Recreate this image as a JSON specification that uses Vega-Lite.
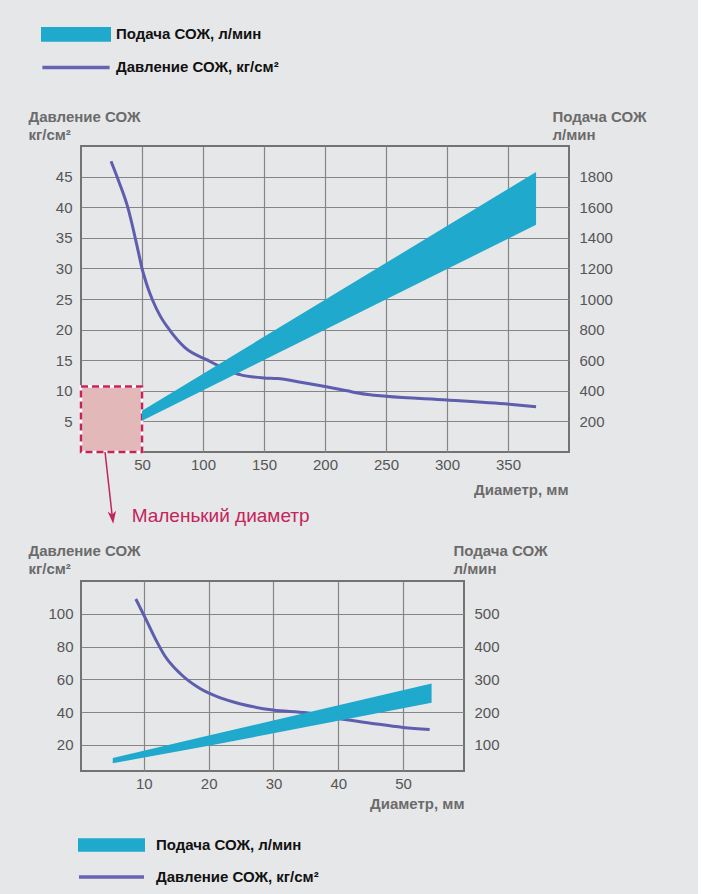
{
  "$schema": "https://vega.github.io/schema/vega-lite/v6.json",
  "background": "#e6e7e9",
  "padding": {"left": 27, "top": 25, "right": 51, "bottom": 9},
  "spacing": 14,
  "config": {
    "font": "Liberation Sans",
    "view": {"stroke": "#737373", "strokeWidth": 2, "fill": "white"},
    "axis": {
      "grid": false, "domain": false, "ticks": false, "tickSize": 0, "tickCount": 30,
      "labelFont": "Liberation Sans", "labelFontSize": 15, "labelColor": "#555555",
      "labelOverlap": false, "format": "d",
      "titleFont": "Liberation Sans", "titleFontSize": 15, "titleFontWeight": "bold", "titleColor": "#6b6b6b",
      "gridColor": "#858585", "gridWidth": 1.2
    },
    "legend": {
      "labelFont": "Liberation Sans", "labelFontSize": 15, "labelFontWeight": "bold", "labelColor": "#111111",
      "labelLimit": 400, "symbolOpacity": 1,
      "symbolStrokeWidth": 0, "padding": 0, "symbolOffset": 0
    }
  },
  "resolve": {"scale": {"color": "independent", "shape": "independent"}},
  "datasets": {
    "pressureLarge": [
      {"d": 24.6, "p": 47.5}, {"d": 31, "p": 44.2}, {"d": 38.3, "p": 40}, {"d": 45, "p": 34.5},
      {"d": 48, "p": 31.8}, {"d": 50, "p": 30}, {"d": 52, "p": 28.6}, {"d": 55, "p": 26.7},
      {"d": 58.7, "p": 24.8}, {"d": 65, "p": 22.2},
      {"d": 72.4, "p": 20}, {"d": 85, "p": 17.1}, {"d": 103.8, "p": 15}, {"d": 120, "p": 13.4},
      {"d": 131, "p": 12.6}, {"d": 150, "p": 12.1}, {"d": 161, "p": 12.0}, {"d": 180, "p": 11.4},
      {"d": 200, "p": 10.7}, {"d": 218, "p": 10.0}, {"d": 228, "p": 9.6}, {"d": 250, "p": 9.1},
      {"d": 300, "p": 8.5}, {"d": 351, "p": 7.8}, {"d": 373, "p": 7.4}
    ],
    "flowLarge": [
      {"d": 50, "lo": 205, "hi": 270},
      {"d": 373, "lo": 1485, "hi": 1830}
    ],
    "pressureSmall": [
      {"d": 8.76, "p": 109}, {"d": 10.4, "p": 96}, {"d": 12, "p": 83}, {"d": 13.2, "p": 74.5},
      {"d": 15.6, "p": 63.5}, {"d": 18.6, "p": 54.5}, {"d": 21.7, "p": 48.8}, {"d": 24.8, "p": 45.1},
      {"d": 29.9, "p": 41.2}, {"d": 35.1, "p": 39.5}, {"d": 40, "p": 36.0}, {"d": 45, "p": 33.2},
      {"d": 50, "p": 30.6}, {"d": 54.1, "p": 29.3}
    ],
    "flowSmall": [
      {"d": 5.2, "lo": 44, "hi": 60},
      {"d": 20, "lo": 97, "hi": 128},
      {"d": 54.4, "lo": 228, "hi": 287}
    ],
    "legendRows": [
      {"series": "Подача СОЖ, л/мин"},
      {"series": "Давление СОЖ, кг/см²"}
    ],
    "note": [{"label": "Маленький диаметр"}]
  },
  "vconcat": [
    {
      "width": 488,
      "height": 306,
      "layer": [
        {
          "layer": [
            {
              "data": {"name": "pressureLarge"},
              "mark": {"type": "line", "color": "#5e5eae", "strokeWidth": 3, "interpolate": "monotone"},
              "encoding": {
                "x": {
                  "field": "d", "type": "quantitative",
                  "scale": {"domain": [0, 400], "nice": false, "zero": false},
                  "axis": {
                    "values": [50, 100, 150, 200, 250, 300, 350], "grid": true, "labelPadding": 5,
                    "title": "Диаметр, мм", "titleAnchor": "end", "titleAlign": "right",
                    "titleX": 487, "titleY": 37, "titleBaseline": "middle"
                  }
                },
                "y": {
                  "field": "p", "type": "quantitative",
                  "scale": {"domain": [0, 50], "nice": false, "zero": false},
                  "axis": {
                    "values": [5, 10, 15, 20, 25, 30, 35, 40, 45], "tickCount": 30, "grid": true, "labelPadding": 9,
                    "title": ["Давление СОЖ", "кг/см²"], "titleAngle": 0, "titleAlign": "left",
                    "titleBaseline": "top", "titleX": -53, "titleY": -36.5, "titleLineHeight": 18
                  }
                }
              }
            },
            {
              "data": {"name": "note"},
              "mark": {"type": "rect", "fill": "#e3b8b8", "stroke": "white", "strokeWidth": 2.5},
              "encoding": {
                "x": {"datum": 0}, "x2": {"datum": 50},
                "y": {"datum": 0}, "y2": {"datum": 10.7}
              }
            },
            {
              "data": {"name": "note"},
              "mark": {"type": "rect", "fill": "transparent", "stroke": "#c3245a", "strokeWidth": 2.5, "strokeDash": [7, 4]},
              "encoding": {
                "x": {"datum": 0}, "x2": {"datum": 50},
                "y": {"datum": 0}, "y2": {"datum": 10.7}
              }
            },
            {
              "data": {"name": "note"},
              "mark": {"type": "rule", "color": "#c3245a", "strokeWidth": 1.5},
              "encoding": {
                "x": {"datum": 19.7}, "x2": {"datum": 25.6},
                "y": {"datum": 0}, "y2": {"datum": -10.5}
              }
            },
            {
              "data": {"name": "note"},
              "mark": {"type": "point", "filled": true, "color": "#c3245a", "opacity": 1, "size": 196, "angle": 354,
                       "shape": "M0,1L-0.6,-0.8L0,-0.35L0.6,-0.8Z"},
              "encoding": {
                "x": {"datum": 25.8}, "y": {"datum": -10.6}
              }
            },
            {
              "data": {"name": "note"},
              "mark": {"type": "text", "align": "left", "baseline": "middle", "fontSize": 19, "color": "#c3245a", "font": "Liberation Sans"},
              "encoding": {
                "x": {"datum": 41.5}, "y": {"datum": -10.5},
                "text": {"field": "label"}
              }
            },
            {
              "data": {"name": "legendRows"},
              "mark": {"type": "point", "filled": true, "opacity": 0, "size": 4900},
              "encoding": {
                "color": {
                  "field": "series", "type": "nominal",
                  "scale": {"domain": ["Подача СОЖ, л/мин", "Давление СОЖ, кг/см²"], "range": ["#1fa9cc", "#6464b2"]},
                  "legend": {"orient": "none", "legendX": -40, "legendY": -119.6, "title": null,
                             "symbolSize": 4900, "clipHeight": 16, "rowPadding": 17, "labelOffset": 5}
                },
                "shape": {
                  "field": "series", "type": "nominal",
                  "scale": {"domain": ["Подача СОЖ, л/мин", "Давление СОЖ, кг/см²"],
                            "range": ["M-1,-0.21H1V0.21H-1Z", "M-0.96,-0.05H0.96V0.05H-0.96Z"]},
                  "legend": {"orient": "none", "legendX": -40, "legendY": -119.6, "title": null,
                             "symbolSize": 4900, "clipHeight": 16, "rowPadding": 17, "labelOffset": 5}
                }
              }
            }
          ]
        },
        {
          "data": {"name": "flowLarge"},
          "mark": {"type": "area", "color": "#1fa9cc", "opacity": 1},
          "encoding": {
            "x": {"field": "d", "type": "quantitative"},
            "y": {
              "field": "hi", "type": "quantitative",
              "scale": {"domain": [0, 2000], "nice": false, "zero": false},
              "axis": {
                "orient": "right", "values": [200, 400, 600, 800, 1000, 1200, 1400, 1600, 1800], "tickCount": 30,
                "labelPadding": 10, "grid": false,
                "title": ["Подача СОЖ", "л/мин"], "titleAngle": 0, "titleAlign": "left",
                "titleBaseline": "top", "titleX": -17, "titleY": -36.5, "titleLineHeight": 18
              }
            },
            "y2": {"field": "lo"}
          }
        }
      ],
      "resolve": {"scale": {"y": "independent"}}
    },
    {
      "width": 383,
      "height": 190,
      "layer": [
        {
          "layer": [
            {
              "data": {"name": "pressureSmall"},
              "mark": {"type": "line", "color": "#5e5eae", "strokeWidth": 3, "interpolate": "monotone"},
              "encoding": {
                "x": {
                  "field": "d", "type": "quantitative",
                  "scale": {"domain": [0.3, 59.4], "nice": false, "zero": false},
                  "axis": {
                    "values": [10, 20, 30, 40, 50], "grid": true, "labelPadding": 5,
                    "title": "Диаметр, мм", "titleAnchor": "end", "titleAlign": "right",
                    "titleX": 383, "titleY": 32, "titleBaseline": "middle"
                  }
                },
                "y": {
                  "field": "p", "type": "quantitative",
                  "scale": {"domain": [4, 120], "nice": false, "zero": false},
                  "axis": {
                    "values": [20, 40, 60, 80, 100], "tickCount": 30, "grid": true, "labelPadding": 8,
                    "title": ["Давление СОЖ", "кг/см²"], "titleAngle": 0, "titleAlign": "left",
                    "titleBaseline": "top", "titleX": -53, "titleY": -37.5, "titleLineHeight": 18
                  }
                }
              }
            },
            {
              "data": {"name": "legendRows"},
              "mark": {"type": "point", "filled": true, "opacity": 0, "size": 4489},
              "encoding": {
                "color": {
                  "field": "series", "type": "nominal",
                  "scale": {"domain": ["Подача СОЖ, л/мин", "Давление СОЖ, кг/см²"], "range": ["#1fa9cc", "#6464b2"]},
                  "legend": {"orient": "none", "legendX": -3, "legendY": 257, "title": null,
                             "symbolSize": 4489, "clipHeight": 14, "rowPadding": 17, "labelOffset": 11}
                },
                "shape": {
                  "field": "series", "type": "nominal",
                  "scale": {"domain": ["Подача СОЖ, л/мин", "Давление СОЖ, кг/см²"],
                            "range": ["M-1,-0.2H1V0.2H-1Z", "M-0.97,-0.05H0.97V0.05H-0.97Z"]},
                  "legend": {"orient": "none", "legendX": -3, "legendY": 257, "title": null,
                             "symbolSize": 4489, "clipHeight": 14, "rowPadding": 17, "labelOffset": 11}
                }
              }
            }
          ]
        },
        {
          "data": {"name": "flowSmall"},
          "mark": {"type": "area", "color": "#1fa9cc", "opacity": 1},
          "encoding": {
            "x": {"field": "d", "type": "quantitative"},
            "y": {
              "field": "hi", "type": "quantitative",
              "scale": {"domain": [20, 600], "nice": false, "zero": false},
              "axis": {
                "orient": "right", "values": [100, 200, 300, 400, 500], "tickCount": 30,
                "labelPadding": 10, "grid": false,
                "title": ["Подача СОЖ", "л/мин"], "titleAngle": 0, "titleAlign": "left",
                "titleBaseline": "top", "titleX": -11, "titleY": -37.5, "titleLineHeight": 18
              }
            },
            "y2": {"field": "lo"}
          }
        }
      ],
      "resolve": {"scale": {"y": "independent"}}
    }
  ]
}
